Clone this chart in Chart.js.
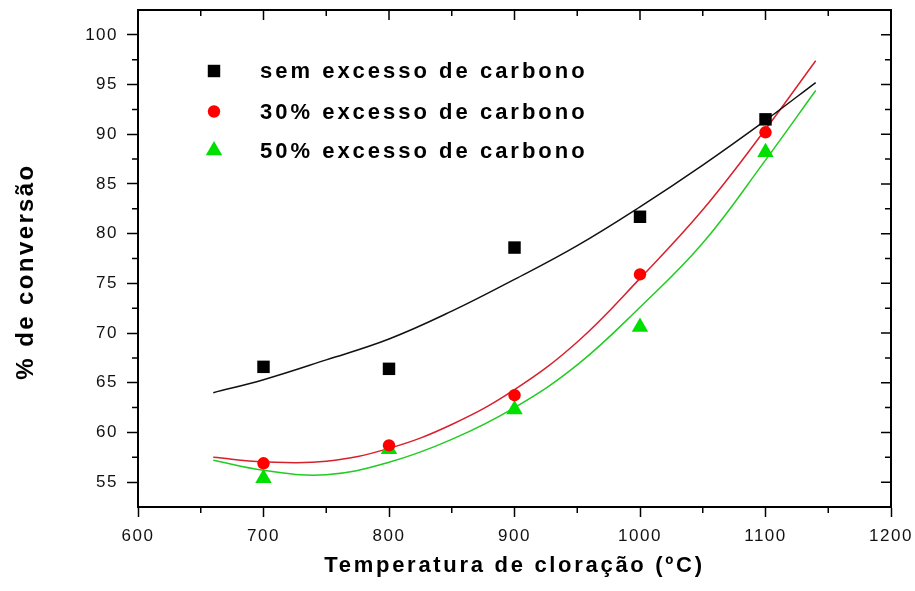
<!DOCTYPE html>
<html><head><meta charset="utf-8">
<script src="https://cdn.jsdelivr.net/npm/chart.js@4/dist/chart.umd.min.js"></script>
<style>html,body{margin:0;padding:0;background:#fff;} #wrap{width:915px;height:591px;position:relative;}</style>
</head><body><div id="wrap"><canvas id="c"></canvas></div>
<script>
// ---- data ----
const temps = [700, 800, 900, 1000, 1100];
const semExcesso = [66.6, 66.4, 78.6, 81.7, 91.5];
const excesso30 = [56.9, 58.7, 63.75, 75.9, 90.2];
const excesso50 = [55.4, 58.3, 62.3, 70.6, 88.2];

const fitTemps = [660, 700, 750, 800, 850, 900, 950, 1000, 1050, 1100, 1140];
const fitSem = [64.0, 65.3, 67.3, 69.4, 72.2, 75.4, 78.8, 82.7, 86.9, 91.4, 95.2];
const fit30 = [57.5, 57.05, 57.1, 58.4, 60.8, 64.3, 69.1, 75.5, 82.4, 90.5, 97.4];
const fit50 = [57.2, 56.2, 55.75, 57.0, 59.3, 62.5, 66.8, 72.6, 79.05, 87.4, 94.4];

const xTicks = [600, 700, 800, 900, 1000, 1100, 1200];
const xTickLabels = ['600', '700', '800', '900', '1000', '1100', '1200'];
const xMinor = [650, 750, 850, 950, 1050, 1150];
const yTicks = [55, 60, 65, 70, 75, 80, 85, 90, 95, 100];
const yTickLabels = ['55', '60', '65', '70', '75', '80', '85', '90', '95', '100'];
const yMinor = [57.5, 62.5, 67.5, 72.5, 77.5, 82.5, 87.5, 92.5, 97.5];

const seriesLabels = ['sem excesso de carbono', '30% excesso de carbono', '50% excesso de carbono'];
const xTitle = 'Temperatura de cloração (ºC)';
const yTitle = '% de conversão';

const FONT = 'Arial, "Liberation Sans", sans-serif';
const markerStyles = [
  {style: 'rect', radius: 8.8, color: '#000000'},
  {style: 'circle', radius: 6.2, color: '#ff0000'},
  {style: 'triangle', radius: 9.5, color: '#00e000'}
];

function toXY(xs, ys) { return xs.map((x, i) => ({x: x, y: ys[i]})); }

function drawMarker(ctx, m, x, y) {
  ctx.save();
  ctx.fillStyle = m.color;
  ctx.beginPath();
  const r = m.radius;
  if (m.style === 'rect') {
    const s = r * Math.SQRT1_2;
    ctx.rect(x - s, y - s, 2 * s, 2 * s);
  } else if (m.style === 'circle') {
    ctx.arc(x, y, r, 0, Math.PI * 2);
  } else {
    ctx.moveTo(x, y - r);
    ctx.lineTo(x + r * 0.866, y + r * 0.5);
    ctx.lineTo(x - r * 0.866, y + r * 0.5);
    ctx.closePath();
  }
  ctx.fill();
  ctx.restore();
}

const titleShift = {x: {dx: 0, dy: 0, spacing: '2.7px'}, y: {dx: 0, dy: 13, spacing: '2.4px'}};

const framePlugin = {
  id: 'frame',
  beforeLayout(chart) {
    chart.ctx.letterSpacing = '1.5px';
    Object.values(chart.scales).forEach(sc => {
      if (!sc._patchedTitle) {
        const orig = Chart.Scale.prototype.drawTitle;
        const sh = titleShift[sc.id] || {dx: 0, dy: 0, spacing: '2.4px'};
        sc.drawTitle = function () {
          const c = this.ctx;
          c.save();
          c.letterSpacing = sh.spacing;
          c.translate(sh.dx, sh.dy);
          orig.call(this);
          c.restore();
        };
        sc._patchedTitle = true;
      }
    });
  },
  beforeDraw(chart) {
    chart.ctx.letterSpacing = '1.5px';
  },
  afterDraw(chart) {
    const ctx = chart.ctx;
    const a = chart.chartArea;
    const xs = chart.scales.x, ys = chart.scales.y;
    ctx.save();
    ctx.strokeStyle = '#000';
    ctx.lineWidth = 1.5;
    ctx.beginPath();
    xTicks.forEach(v => {
      const p = xs.getPixelForValue(v);
      ctx.moveTo(p, a.top); ctx.lineTo(p, a.top + 10);
    });
    xMinor.forEach(v => {
      const p = xs.getPixelForValue(v);
      ctx.moveTo(p, a.bottom); ctx.lineTo(p, a.bottom + 6);
      ctx.moveTo(p, a.top); ctx.lineTo(p, a.top + 6);
    });
    yTicks.forEach(v => {
      const p = ys.getPixelForValue(v);
      ctx.moveTo(a.right, p); ctx.lineTo(a.right - 10, p);
    });
    yMinor.forEach(v => {
      const p = ys.getPixelForValue(v);
      ctx.moveTo(a.left, p); ctx.lineTo(a.left - 6, p);
      ctx.moveTo(a.right, p); ctx.lineTo(a.right - 6, p);
    });
    ctx.stroke();
    ctx.lineWidth = 2;
    ctx.strokeRect(a.left, a.top, a.right - a.left, a.bottom - a.top);

    // legend inside plot
    ctx.letterSpacing = '3px';
    ctx.font = 'bold 22px ' + FONT;
    ctx.fillStyle = '#000';
    ctx.textBaseline = 'middle';
    ctx.textAlign = 'left';
    const rowsY = [61, 101.5, 140.5];
    seriesLabels.forEach((lab, i) => {
      const y = a.top + rowsY[i];
      drawMarker(ctx, markerStyles[i], a.left + 76, y);
      ctx.fillText(lab, a.left + 122, y + 1);
    });
    ctx.restore();
  }
};

const ctx = document.getElementById('c').getContext('2d');
new Chart(ctx, {
  type: 'scatter',
  data: {
    datasets: [
      {label: seriesLabels[0], data: toXY(temps, semExcesso), pointStyle: 'rect', pointRadius: 8.8,
       backgroundColor: '#000000', borderWidth: 0, order: 0},
      {label: seriesLabels[1], data: toXY(temps, excesso30), pointStyle: 'circle', pointRadius: 6.2,
       backgroundColor: '#ff0000', borderWidth: 0, order: 1},
      {label: seriesLabels[2], data: toXY(temps, excesso50), pointStyle: 'triangle', pointRadius: 9.5,
       backgroundColor: '#00e000', borderWidth: 0, order: 2},
      {label: 'ajuste ' + seriesLabels[0], type: 'line', data: toXY(fitTemps, fitSem), borderColor: '#111111',
       borderWidth: 1.5, pointRadius: 0, tension: 0.4, fill: false, order: 3},
      {label: 'ajuste ' + seriesLabels[1], type: 'line', data: toXY(fitTemps, fit30), borderColor: '#d8202c',
       borderWidth: 1.5, pointRadius: 0, tension: 0.4, fill: false, order: 3},
      {label: 'ajuste ' + seriesLabels[2], type: 'line', data: toXY(fitTemps, fit50), borderColor: '#22cc22',
       borderWidth: 1.5, pointRadius: 0, tension: 0.4, fill: false, order: 3}
    ]
  },
  options: {
    responsive: true,
    maintainAspectRatio: false,
    animation: false,
    layout: {padding: {top: 10, right: 24, bottom: 0, left: 0}},
    plugins: {legend: {display: false}, tooltip: {enabled: false}},
    scales: {
      x: {
        type: 'linear', min: 600, max: 1200,
        afterBuildTicks: s => { s.ticks = xTicks.map(v => ({value: v})); },
        afterFit: s => { s.height = 84; s.paddingLeft = 0; s.paddingRight = 0; },
        ticks: {
          callback: (v) => xTickLabels[xTicks.indexOf(v)],
          font: {family: FONT, size: 17}, color: '#111', padding: 9, maxRotation: 0, autoSkip: false
        },
        grid: {drawOnChartArea: false, drawTicks: true, tickLength: 10, tickWidth: 1.5, tickColor: '#000'},
        border: {display: true, color: '#000', width: 2},
        title: {display: true, text: xTitle, font: {family: FONT, size: 22, weight: 'bold'}, color: '#000',
                padding: {top: 0, bottom: 12}}
      },
      y: {
        type: 'linear', min: 52.5, max: 102.5,
        afterBuildTicks: s => { s.ticks = yTicks.map(v => ({value: v})); },
        afterFit: s => { s.width = 138; s.paddingTop = 0; s.paddingBottom = 0; },
        ticks: {
          callback: (v) => yTickLabels[yTicks.indexOf(v)],
          font: {family: FONT, size: 17}, color: '#111', padding: 9, autoSkip: false
        },
        grid: {drawOnChartArea: false, drawTicks: true, tickLength: 11, tickWidth: 1.5, tickColor: '#000'},
        border: {display: true, color: '#000', width: 2},
        title: {display: true, text: yTitle, font: {family: FONT, size: 24, weight: 'bold'}, color: '#000',
                padding: {top: 12, bottom: 0}}
      }
    }
  },
  plugins: [framePlugin]
});
</script>
</body></html>
